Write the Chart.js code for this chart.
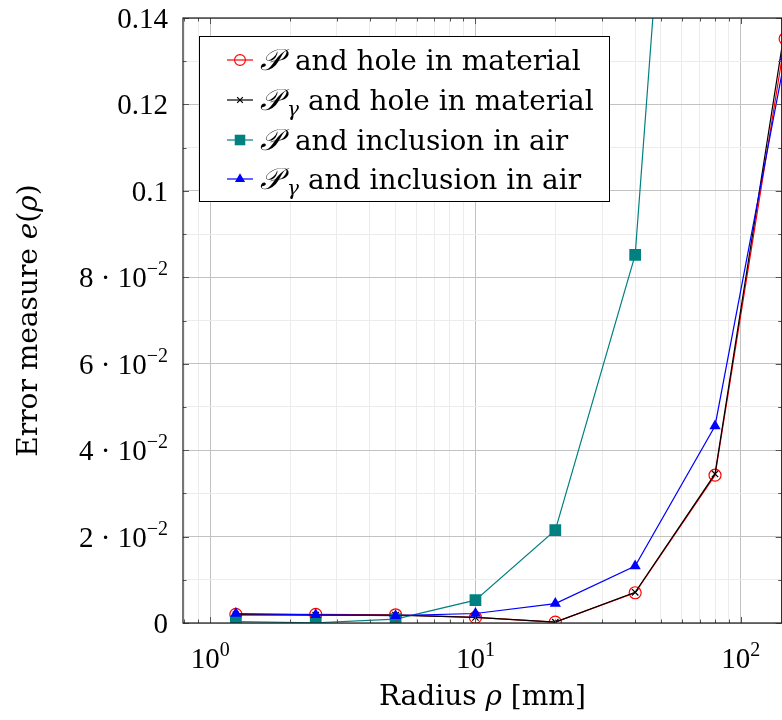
<!DOCTYPE html>
<html>
<head>
<meta charset="utf-8">
<script src="https://cdn.jsdelivr.net/npm/chart.js@4/dist/chart.umd.min.js"></script>
<style>
  html, body { margin: 0; padding: 0; background: #fff; overflow: hidden; }
  #wrap { position: relative; width: 782px; height: 720px; overflow: hidden; }
  #wrap canvas { position: absolute; left: 0; top: 0; }
</style>
</head>
<body>
<div id="wrap"><canvas id="c" width="790" height="720" style="width:790px;height:720px"></canvas></div>
<script>
// Radius of the defect, mm
const radii = [1.25, 2.5, 5, 10, 20, 40, 80, 147];

// Error measure e(rho) for the four configurations
const holeP      = [0.0020, 0.0020, 0.0019, 0.0013, 0.0002, 0.0070, 0.0342, 0.1352];
const holePgamma = [0.0019, 0.0018, 0.0018, 0.0013, 0.0002, 0.0071, 0.0345, 0.1380];
const inclP      = [0.0003, 0.00005, 0.0009, 0.0053, 0.0215, 0.0852, 0.333, 0.62];
const inclPgamma = [0.0022, 0.0019, 0.0017, 0.0022, 0.0045, 0.0132, 0.0456, 0.1310];

// Legend entries: symbol, subscript, rest of the text
const legendLabels = [
  ['\u{1D4AB}', '',  ' and hole in material'],
  ['\u{1D4AB}', 'γ', ' and hole in material'],
  ['\u{1D4AB}', '',  ' and inclusion in air'],
  ['\u{1D4AB}', 'γ', ' and inclusion in air']
];

// Grid positions and tick labels
const xGrid = [0.8, 0.9, 1, 2, 3, 4, 5, 6, 7, 8, 9, 10, 20, 30, 40, 50, 60, 70, 80, 90, 100];
const xTickValues = [1, 10, 100];
const xTickLabels = [['10', '0'], ['10', '1'], ['10', '2']];
const yGrid = [0, 0.01, 0.02, 0.03, 0.04, 0.05, 0.06, 0.07, 0.08, 0.09, 0.10, 0.11, 0.12, 0.13, 0.14];
const yTickValues = [0, 0.02, 0.04, 0.06, 0.08, 0.10, 0.12, 0.14];
const yTickLabels = [['0', ''], ['2 · 10', '−2'], ['4 · 10', '−2'], ['6 · 10', '−2'],
                     ['8 · 10', '−2'], ['0.1', ''], ['0.12', ''], ['0.14', '']];

const xTitle = [['Radius ', 'r'], ['ρ', 'i'], [' [mm]', 'r']];
const yTitle = [['Error measure ', 'r'], ['e', 'i'], ['(', 'r'], ['ρ', 'i'], [')', 'r']];

const WORD = '"DejaVu Serif", serif';
const NUM = '"Liberation Serif", serif';
const MATH = '"DejaVu Sans", "DejaVu Serif", serif';

const isMajorX = v => Math.abs(Math.log10(v) - Math.round(Math.log10(v))) < 1e-9;
const isMajorY = v => Math.abs(v / 0.02 - Math.round(v / 0.02)) < 1e-6;

const pts = arr => radii.map((r, i) => ({ x: r, y: arr[i] }));

const datasets = [
  { data: pts(holeP), borderColor: '#ff0000', borderWidth: 1.2,
    pointStyle: 'circle', pointRadius: 6, pointBorderWidth: 1.2,
    pointBorderColor: '#ff0000', pointBackgroundColor: 'rgba(0,0,0,0)', order: 4 },
  { data: pts(holePgamma), borderColor: '#000000', borderWidth: 1.2,
    pointStyle: 'crossRot', pointRadius: 4.5, pointBorderWidth: 1.2,
    pointBorderColor: '#000000', pointBackgroundColor: '#000000', order: 3 },
  { data: pts(inclP), borderColor: '#008080', borderWidth: 1.2,
    pointStyle: 'rect', pointRadius: 8.3, pointBorderWidth: 0,
    pointBorderColor: '#008080', pointBackgroundColor: '#008080', order: 2 },
  { data: pts(inclPgamma), borderColor: '#0000ff', borderWidth: 1.2,
    pointStyle: 'triangle', pointRadius: 6.5, pointBorderWidth: 0,
    pointBorderColor: '#0000ff', pointBackgroundColor: '#0000ff', order: 1 }
];

// draw a run of text pieces [text, fontSpec, dy] starting at x on baseline y
function runWidth(ctx, parts) {
  let w = 0;
  for (const p of parts) { ctx.font = p[1]; w += ctx.measureText(p[0]).width; }
  return w;
}
function drawRun(ctx, parts, x, y) {
  let cx = x;
  for (const p of parts) {
    ctx.font = p[1];
    ctx.fillText(p[0], cx, y + (p[2] || 0));
    cx += ctx.measureText(p[0]).width;
  }
  return cx;
}

const decorations = {
  id: 'decorations',
  afterDatasetsDraw(chart) {
    const { ctx, chartArea: a, scales: { x, y } } = chart;
    ctx.save();
    // tick marks on all four sides, pointing inward
    ctx.strokeStyle = '#555';
    ctx.lineWidth = 1;
    ctx.beginPath();
    xGrid.forEach(v => {
      const px = Math.round(x.getPixelForValue(v)) + 0.5;
      const L = isMajorX(v) ? 6 : 3.5;
      ctx.moveTo(px, a.bottom); ctx.lineTo(px, a.bottom - L);
      ctx.moveTo(px, a.top); ctx.lineTo(px, a.top + L);
    });
    yGrid.forEach(v => {
      const py = Math.round(y.getPixelForValue(v)) + 0.5;
      const L = isMajorY(v) ? 6 : 3.5;
      ctx.moveTo(a.left, py); ctx.lineTo(a.left + L, py);
      ctx.moveTo(a.right, py); ctx.lineTo(a.right - L, py);
    });
    ctx.stroke();
    // axis frame
    ctx.strokeStyle = '#1a1a1a';
    ctx.lineWidth = 1.2;
    ctx.strokeRect(a.left, a.top, a.right - a.left, a.bottom - a.top);
    ctx.restore();
  },
  afterDraw(chart) {
    const { ctx, chartArea: a, scales: { x, y } } = chart;
    ctx.save();
    ctx.fillStyle = '#000';
    ctx.textBaseline = 'alphabetic';
    ctx.textAlign = 'left';

    // y tick labels
    yTickValues.forEach((v, i) => {
      const [base, sup] = yTickLabels[i];
      const parts = [[base, `29px ${NUM}`, 0]];
      if (sup) parts.push([sup, `20px ${NUM}`, -12]);
      const w = runWidth(ctx, parts);
      drawRun(ctx, parts, 168 - w, y.getPixelForValue(v) + 10);
    });
    // x tick labels
    xTickValues.forEach((v, i) => {
      const [base, sup] = xTickLabels[i];
      const parts = [[base, `29px ${NUM}`, 0], [sup, `20px ${NUM}`, -12]];
      const w = runWidth(ctx, parts);
      drawRun(ctx, parts, x.getPixelForValue(v) - w / 2, 668);
    });

    // axis titles
    const styled = t => t.map(([s, k]) => [s, k === 'i' ? `italic 28px ${WORD}` : `28px ${WORD}`, 0]);
    const xt = styled(xTitle);
    drawRun(ctx, xt, (a.left + a.right) / 2 - runWidth(ctx, xt) / 2, 705);
    const yt = styled(yTitle);
    ctx.save();
    ctx.translate(37, (a.top + a.bottom) / 2);
    ctx.rotate(-Math.PI / 2);
    drawRun(ctx, yt, -runWidth(ctx, yt) / 2, 0);
    ctx.restore();

    // legend
    const box = { l: 199.5, t: 36.5, r: 609.5, b: 201.5 };
    ctx.fillStyle = '#fff';
    ctx.fillRect(box.l, box.t, box.r - box.l, box.b - box.t);
    ctx.strokeStyle = '#000';
    ctx.lineWidth = 1;
    ctx.strokeRect(box.l, box.t, box.r - box.l, box.b - box.t);
    const rowY = [60, 100, 140, 179];
    datasets.forEach((ds, i) => {
      const cy = rowY[i];
      ctx.strokeStyle = ds.borderColor;
      ctx.lineWidth = ds.borderWidth;
      ctx.beginPath(); ctx.moveTo(227, cy); ctx.lineTo(253, cy); ctx.stroke();
      ctx.fillStyle = ds.pointBackgroundColor;
      ctx.strokeStyle = ds.pointBorderColor;
      ctx.lineWidth = ds.pointBorderWidth;
      Chart.helpers.drawPoint(ctx, {
        pointStyle: ds.pointStyle, radius: ds.pointRadius * 0.9,
        rotation: 0, borderWidth: ds.pointBorderWidth
      }, 240, cy);
      const [sym, sub, rest] = legendLabels[i];
      ctx.fillStyle = '#000';
      ctx.font = `italic 30px ${MATH}`;
      ctx.fillText(sym, 260, cy + 10);
      let tx = 286;
      if (sub) {
        ctx.font = `italic 20px ${WORD}`;
        ctx.fillText(sub, 287, cy + 16);
        tx = 299;
      }
      ctx.font = `28px ${WORD}`;
      ctx.fillText(rest, tx, cy + 10);
    });
    ctx.restore();
  }
};

new Chart(document.getElementById('c'), {
  type: 'line',
  data: { datasets },
  options: {
    responsive: false,
    animation: false,
    events: [],
    layout: { padding: { left: 183, top: 18, right: 7, bottom: 97 } },
    plugins: { legend: { display: false }, tooltip: { enabled: false } },
    elements: { line: { tension: 0, fill: false } },
    scales: {
      x: {
        type: 'logarithmic', min: 0.79, max: 142.7,
        afterBuildTicks: s => { s.ticks = xGrid.map(v => ({ value: v })); },
        ticks: { display: false },
        border: { display: false },
        grid: {
          drawTicks: false, lineWidth: 1,
          color: c => (c.tick && isMajorX(c.tick.value)) ? '#c2c2c2' : '#ececec'
        }
      },
      y: {
        type: 'linear', min: 0, max: 0.14,
        afterBuildTicks: s => { s.ticks = yGrid.map(v => ({ value: v })); },
        ticks: { display: false },
        border: { display: false },
        grid: {
          drawTicks: false, lineWidth: 1,
          color: c => (c.tick && isMajorY(c.tick.value)) ? '#c2c2c2' : '#ececec'
        }
      }
    }
  },
  plugins: [decorations]
});
</script>
</body>
</html>
